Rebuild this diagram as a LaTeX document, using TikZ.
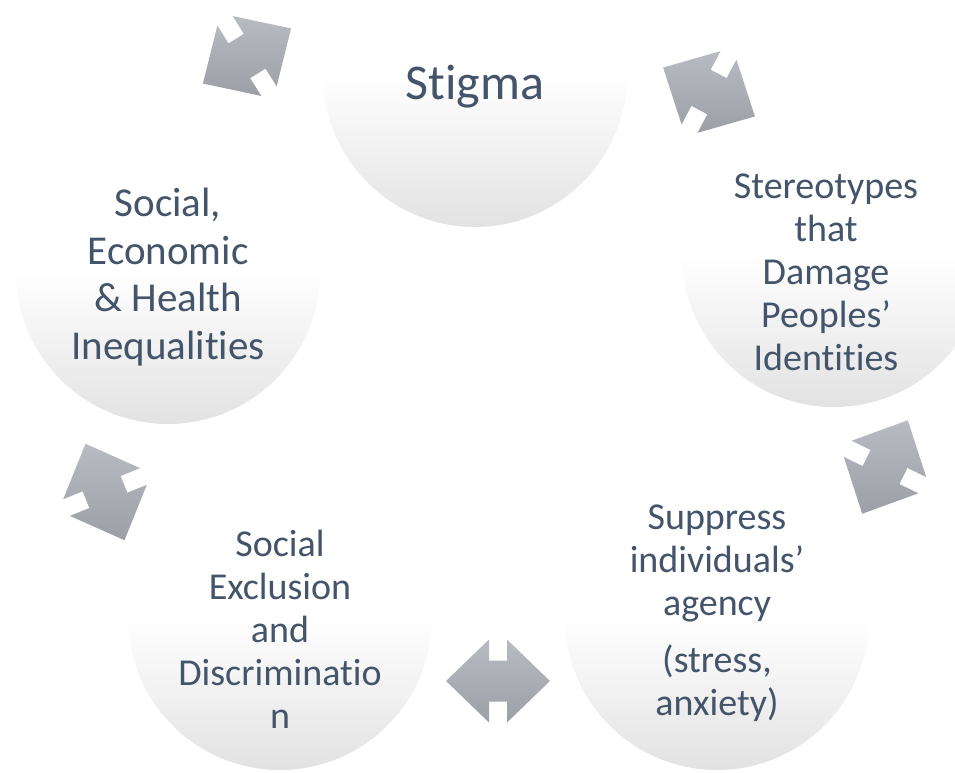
\documentclass[tikz,border=0pt]{standalone}
\usepackage{fontspec}
\setmainfont{Carlito}[Ligatures={NoCommon,NoContextual}, RawFeature={-liga;-clig;-calt;-dlig}]
\usetikzlibrary{calc}

\definecolor{txt}{HTML}{44546A}
\definecolor{arrowtop}{RGB}{184,187,193}
\definecolor{arrowbot}{RGB}{156,159,166}
\definecolor{discbot}{RGB}{226,226,226}

\tikzset{
  disc/.style={circle, minimum size=304pt, inner sep=0pt,
    top color=white, bottom color=discbot, middle color=white},
  label text/.style={text=txt, align=center, inner sep=0pt,
    font=\fontsize{38}{43}\selectfont},
  % two-headed block arrow whose axis points #1 degrees anticlockwise;
  % corners are given in polar form so the shading stays top to bottom
  dblarrow/.pic={
    \shade[top color=arrowtop, bottom color=arrowbot]
      ({-(#1)}:52)          -- ({-(#1)+77.77}:42.46)  -- ({-(#1)+66.30}:22.39)
      -- ({-(#1)+113.70}:22.39) -- ({-(#1)+102.23}:42.46) -- ({-(#1)+180}:52)
      -- ({-(#1)-102.23}:42.46) -- ({-(#1)-113.70}:22.39) -- ({-(#1)-66.30}:22.39)
      -- ({-(#1)-77.77}:42.46) -- cycle;
  }
}

\begin{document}
\begin{tikzpicture}[x=1pt, y=-1pt]
  \useasboundingbox (0,0) rectangle (955,773);
  \clip (0,0) rectangle (955,773);

  % the five stages of the cycle
  \node[disc] (stigma)   at (475,75)  {};
  \node[disc] (stereo)   at (834,255) {};
  \node[disc] (suppress) at (717,618) {};
  \node[disc] (exclude)  at (280,618) {};
  \node[disc] (inequal)  at (168,272) {};

  % labels
  \node[label text, font=\fontsize{50}{60}\selectfont] (stigmatext) at (475,87) {Stigma};
  \node[label text] (stereotext) at (826,272)
    {Stereotypes\\that\\Damage\\Peoples’\\Identities};
  \node[label text] (suppresstext) at (717,613)
    {Suppress\\individuals’\\agency\\[14pt](stress,\\anxiety)};
  \node[label text] (excludetext) at (280,629)
    {Social\\Exclusion\\and\\Discriminatio\\n};
  \node[label text, font=\fontsize{41}{47.5}\selectfont] (inequaltext) at (168,277)
    {Social,\\Economic\\\& Health\\Inequalities};

  % two-way arrows between neighbouring stages
  \coordinate (a1) at (247,56);
  \coordinate (a2) at (709,92);
  \coordinate (a3) at (885,467);
  \coordinate (a4) at (498,681);
  \coordinate (a5) at (105,492);
  \pic (arrowA) at (a1) {dblarrow=32};
  \pic (arrowB) at (a2) {dblarrow=-28};
  \pic (arrowC) at (a3) {dblarrow=64};
  \pic (arrowD) at (a4) {dblarrow=0};
  \pic (arrowE) at (a5) {dblarrow=112};
\end{tikzpicture}
\end{document}
